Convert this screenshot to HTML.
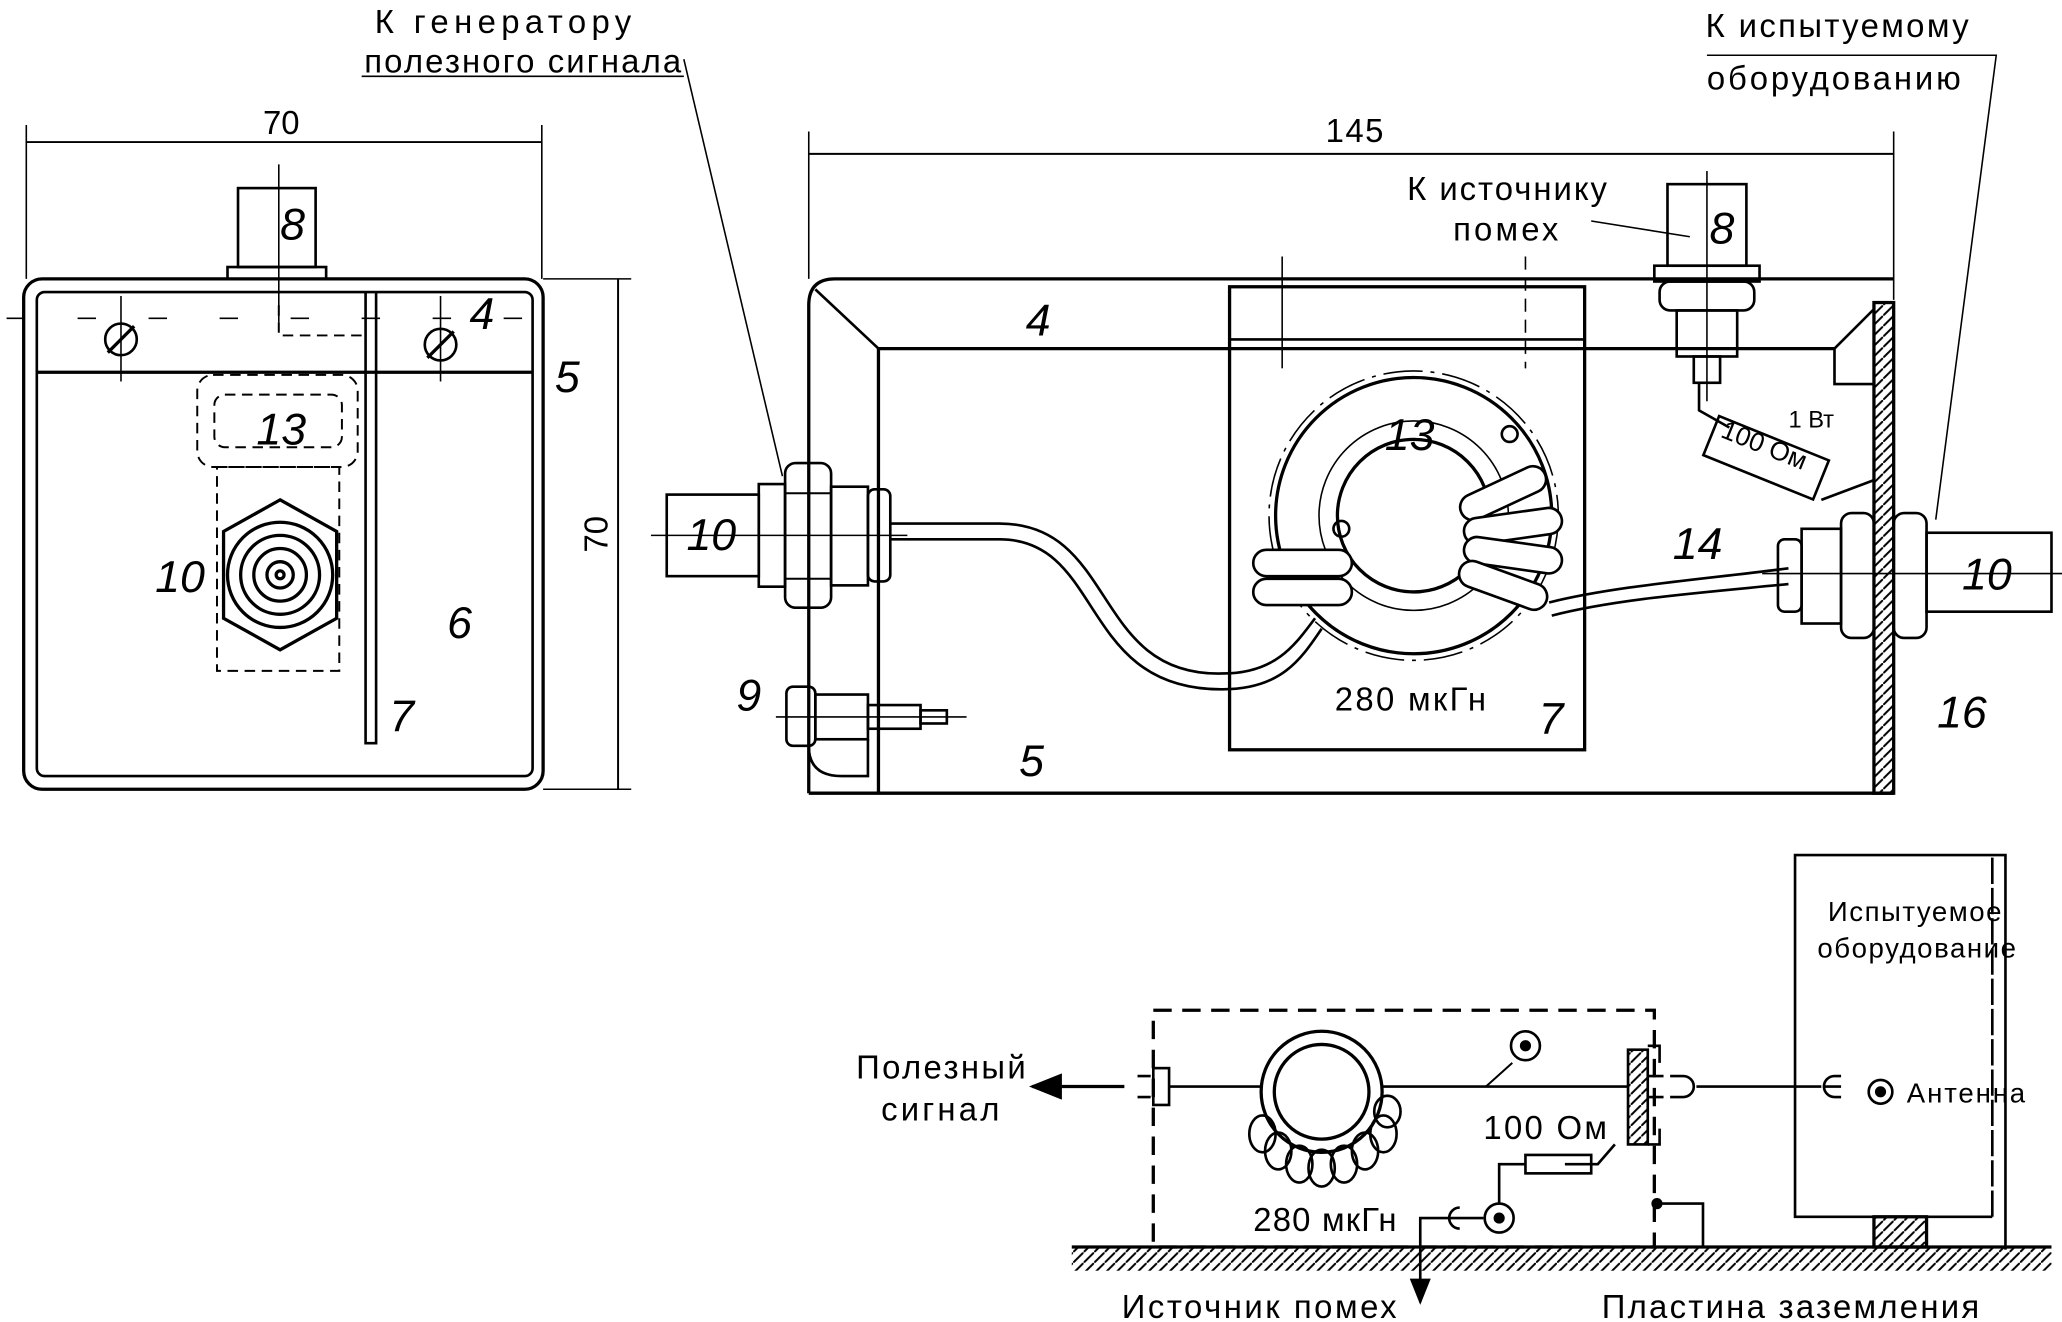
<!DOCTYPE html>
<html><head><meta charset="utf-8"><style>
html,body{margin:0;padding:0;background:#fff}
svg{display:block}
text{font-family:"Liberation Sans",sans-serif;fill:#000}
.i{font-style:italic}
</style></head><body>
<svg width="2062" height="1322" viewBox="0 0 1568 1005" preserveAspectRatio="none" xmlns="http://www.w3.org/2000/svg">
<defs>
<pattern id="h" width="8" height="8" patternUnits="userSpaceOnUse"><path d="M0 8L8 0" stroke="#000" stroke-width="1.5"/></pattern>
<marker id="ar" markerWidth="10" markerHeight="8" refX="9" refY="4" orient="auto"><path d="M0 0L10 4L0 8z"/></marker>
</defs>
<g fill="none" stroke="#000" stroke-width="2.5">
<line x1="20" y1="108" x2="412" y2="108" stroke-width="1.5"/>
<line x1="20" y1="95" x2="20" y2="212" stroke-width="1.2"/>
<line x1="412" y1="95" x2="412" y2="212" stroke-width="1.2"/>
<rect x="18" y="212" width="395" height="388" rx="14"/>
<rect x="28" y="222" width="377" height="368" rx="6" stroke-width="2"/>
<line x1="28" y1="283" x2="405" y2="283"/>
<line x1="413" y1="212" x2="480" y2="212" stroke-width="1.2"/>
<line x1="413" y1="600" x2="480" y2="600" stroke-width="1.2"/>
<line x1="470" y1="212" x2="470" y2="600" stroke-width="1.5"/>
<rect x="181" y="143" width="59" height="60" stroke-width="2"/>
<rect x="173" y="203" width="75" height="9" stroke-width="2"/>
<line x1="212" y1="125" x2="212" y2="245" stroke-width="1.2"/>
<line x1="5" y1="242" x2="428" y2="242" stroke-width="1.2" stroke-dasharray="14 40"/>
<line x1="92" y1="225" x2="92" y2="290" stroke-width="1.2"/>
<line x1="335" y1="225" x2="335" y2="290" stroke-width="1.2"/>
<circle cx="92" cy="258" r="12" stroke-width="2"/><line x1="82" y1="268" x2="102" y2="248"/>
<circle cx="335" cy="262" r="12" stroke-width="2"/><line x1="325" y1="272" x2="345" y2="252"/>
<path d="M212 232 V255 H278" stroke-dasharray="8 5" stroke-width="1.5"/>
<rect x="150" y="285" width="122" height="70" rx="12" stroke-dasharray="8 5" stroke-width="1.5"/>
<rect x="163" y="300" width="97" height="40" rx="8" stroke-dasharray="8 5" stroke-width="1.5"/>
<rect x="165" y="355" width="93" height="155" stroke-dasharray="8 5" stroke-width="1.5"/>
<polygon points="213,380 256,404 256,470 213,494 170,470 170,404"/>
<circle cx="213" cy="437" r="40"/><circle cx="213" cy="437" r="30"/><circle cx="213" cy="437" r="20"/><circle cx="213" cy="437" r="10"/><circle cx="213" cy="437" r="3"/>
<path d="M278 222 V565 H286 V222" stroke-width="2"/>
<line x1="615" y1="117" x2="1440" y2="117" stroke-width="1.5"/>
<line x1="615" y1="100" x2="615" y2="212" stroke-width="1.2"/>
<line x1="1440" y1="100" x2="1440" y2="228" stroke-width="1.2"/>
<path d="M615 603 V232 Q615 212 635 212 H1440"/>
<path d="M615 603 H1440"/>
<path d="M668 603 V265 H1395" />
<line x1="620" y1="220" x2="668" y2="265" stroke-width="2"/>
<line x1="1395" y1="265" x2="1425" y2="235" stroke-width="2"/>
<path d="M1395 265 V292 H1425" stroke-width="2"/>
<rect x="1425" y="230" width="15" height="373" fill="url(#h)"/>
<rect x="935" y="218" width="270" height="352"/>
<line x1="935" y1="258" x2="1205" y2="258" stroke-width="2"/>
<line x1="975" y1="195" x2="975" y2="280" stroke-width="1.2"/>
<line x1="1160" y1="195" x2="1160" y2="280" stroke-width="1.2" stroke-dasharray="10 6"/>
<circle cx="1075" cy="392" r="110" stroke-width="1.2" stroke-dasharray="30 6 3 6"/>
<circle cx="1075" cy="392" r="105"/><circle cx="1075" cy="392" r="58"/>
<circle cx="1075" cy="392" r="72" stroke-width="1.2"/>
<g stroke-width="2" fill="#fff">
<rect x="953" y="418" width="75" height="20" rx="10"/><rect x="953" y="440" width="75" height="20" rx="10"/>
<rect x="1108" y="365" width="70" height="20" rx="10" transform="rotate(-25 1143 375)"/>
<rect x="1113" y="390" width="75" height="20" rx="10" transform="rotate(-8 1150 400)"/>
<rect x="1113" y="412" width="75" height="20" rx="10" transform="rotate(8 1150 422)"/>
<rect x="1108" y="435" width="70" height="20" rx="10" transform="rotate(20 1143 445)"/>
</g>
<circle cx="1020" cy="402" r="6" stroke-width="2"/><circle cx="1148" cy="330" r="6" stroke-width="2"/>
<path d="M677 398 H760 C850 398 830 515 930 512 C970 512 985 490 1000 470" stroke-width="2"/>
<path d="M677 410 H760 C840 410 820 525 930 524 C975 524 990 500 1005 478" stroke-width="2"/>
<path d="M1178 458 C1230 445 1300 440 1360 432" stroke-width="2"/>
<path d="M1180 468 C1230 455 1300 450 1360 444" stroke-width="2"/>
<rect x="507" y="376" width="70" height="62" stroke-width="2"/>
<rect x="577" y="368" width="20" height="78" stroke-width="2"/>
<rect x="597" y="352" width="35" height="110" rx="8" stroke-width="2"/>
<line x1="597" y1="375" x2="632" y2="375" stroke-width="1.5"/><line x1="597" y1="440" x2="632" y2="440" stroke-width="1.5"/>
<rect x="632" y="370" width="28" height="75" stroke-width="2"/>
<rect x="660" y="372" width="17" height="70" rx="5" stroke-width="2"/>
<line x1="495" y1="407" x2="690" y2="407" stroke-width="1.2"/>
<rect x="598" y="522" width="22" height="45" rx="5" stroke-width="2"/>
<rect x="620" y="528" width="40" height="34" stroke-width="2"/>
<rect x="660" y="536" width="40" height="18" stroke-width="2"/>
<rect x="700" y="540" width="20" height="10" stroke-width="2"/>
<line x1="590" y1="545" x2="735" y2="545" stroke-width="1.2"/>
<path d="M615 567 Q615 590 640 590 H660 V562" stroke-width="2"/>
<rect x="1352" y="410" width="18" height="55" rx="5" stroke-width="2"/>
<rect x="1370" y="402" width="30" height="72" stroke-width="2"/>
<rect x="1400" y="390" width="25" height="95" rx="8" stroke-width="2"/>
<rect x="1440" y="390" width="25" height="95" rx="8" stroke-width="2"/>
<rect x="1465" y="405" width="95" height="60" stroke-width="2"/>
<line x1="1340" y1="436" x2="1568" y2="436" stroke-width="1.2"/>
<rect x="1268" y="140" width="60" height="62" stroke-width="2"/>
<rect x="1258" y="202" width="80" height="12" stroke-width="2"/>
<rect x="1262" y="214" width="72" height="22" rx="8" stroke-width="2"/>
<rect x="1275" y="236" width="46" height="35" stroke-width="2"/>
<rect x="1288" y="271" width="20" height="20" stroke-width="2"/>
<line x1="1298" y1="130" x2="1298" y2="305" stroke-width="1.2"/>
<path d="M1292 291 V312 L1315 325" stroke-width="2"/>
<rect x="1298" y="332" width="90" height="32" transform="rotate(22 1343 348)" stroke-width="2"/>
<line x1="1385" y1="380" x2="1425" y2="365" stroke-width="2"/>
<path d="M520 45 L595 362" stroke-width="1.2"/>
<path d="M275 58 H520" stroke-width="1.2"/>
<path d="M1298 42 H1518 L1472 395" stroke-width="1.2"/>
<path d="M1210 168 L1285 180" stroke-width="1.2"/>
<rect x="877" y="768" width="381" height="180" stroke-dasharray="14 8" stroke-width="2.5"/>
<line x1="815" y1="948" x2="1560" y2="948"/>
<rect x="815" y="948" width="745" height="18" fill="url(#h)" stroke="none"/>
<path d="M1525 950 V650 H1365 V925 H1515" stroke-width="2"/>
<path d="M1515 925 V650" stroke-width="2" stroke-dasharray="20 3"/>
<rect x="1425" y="925" width="40" height="23" fill="url(#h)"/>
<line x1="785" y1="826" x2="855" y2="826" marker-end="url(#ar)" transform="rotate(180 820 826)"/>
<path d="M875 818 H865 M875 834 H865" stroke-width="2"/>
<rect x="877" y="812" width="12" height="28" stroke-width="2"/>
<line x1="889" y1="826" x2="960" y2="826" stroke-width="2"/>
<circle cx="1005" cy="830" r="46"/><circle cx="1005" cy="830" r="36"/>
<g stroke-width="2">
<ellipse cx="972" cy="875" rx="10" ry="14"/><ellipse cx="988" cy="885" rx="10" ry="14"/><ellipse cx="1005" cy="888" rx="10" ry="14"/><ellipse cx="1022" cy="885" rx="10" ry="14"/><ellipse cx="1038" cy="875" rx="10" ry="14"/><ellipse cx="1052" cy="862" rx="10" ry="14"/><ellipse cx="960" cy="862" rx="10" ry="14"/><ellipse cx="1055" cy="845" rx="10" ry="12"/>
</g>
<line x1="1050" y1="826" x2="1238" y2="826" stroke-width="2"/>
<circle cx="1160" cy="795" r="11" stroke-width="2"/><circle cx="1160" cy="795" r="3" fill="#000"/>
<line x1="1130" y1="826" x2="1150" y2="808" stroke-width="1.5"/>
<rect x="1238" y="798" width="15" height="72" fill="url(#h)" stroke-width="2"/>
<path d="M1253 795 H1262 V808 M1253 870 H1262 V858" stroke-width="2"/>
<path d="M1253 818 H1265 M1253 834 H1265" stroke-width="2"/>
<path d="M1270 818 H1280 A8 8 0 0 1 1280 834 H1270" stroke-width="2"/>
<line x1="1290" y1="826" x2="1385" y2="826" stroke-width="2"/>
<path d="M1400 818 H1395 A8 8 0 0 0 1395 834 H1400 M1386 826 H1400" stroke-width="2"/>
<circle cx="1430" cy="830" r="9" stroke-width="2"/><circle cx="1430" cy="830" r="3" fill="#000"/>
<path d="M1228 870 L1215 885 H1190" stroke-width="2"/>
<rect x="1160" y="878" width="50" height="14" stroke-width="2"/>
<path d="M1160 885 H1140 V915" stroke-width="2"/>
<circle cx="1140" cy="926" r="11" stroke-width="2"/><circle cx="1140" cy="926" r="3" fill="#000"/>
<path d="M1128 926 H1118 M1110 918 A8 8 0 0 0 1110 934 M1118 926 H1080 V990" stroke-width="2" marker-end="url(#ar)"/>
<path d="M1260 915 H1295 V948" stroke-width="2"/>
<circle cx="1260" cy="915" r="3" fill="#000"/>
</g>
<g font-size="25">
<text x="200" y="102">70</text>
<text x="1008" y="108" textLength="44">145</text>
<text x="462" y="420" transform="rotate(-90 462 420)">70</text>
<text x="285" y="25" textLength="195">К генератору</text>
<text x="277" y="55" textLength="241">полезного сигнала</text>
<text x="1297" y="28" textLength="200">К испытуемому</text>
<text x="1298" y="68" textLength="193">оборудованию</text>
<text x="1070" y="152" textLength="152">К источнику</text>
<text x="1105" y="183" textLength="80">помех</text>
<text x="1015" y="540" textLength="115">280 мкГн</text>
<text x="1360" y="325" font-size="18">1 Вт</text>
<text x="1305" y="345" font-size="20" transform="rotate(22 1340 345)">100 Ом</text>
<text x="651" y="820" textLength="129">Полезный</text>
<text x="670" y="852" textLength="90">сигнал</text>
<text x="1390" y="700" font-size="21" textLength="132">Испытуемое</text>
<text x="1382" y="728" font-size="21" textLength="151">оборудование</text>
<text x="1450" y="838" font-size="21" textLength="90">Антенна</text>
<text x="1128" y="866" textLength="94">100 Ом</text>
<text x="953" y="936" textLength="109">280 мкГн</text>
<text x="853" y="1002" textLength="209">Источник помех</text>
<text x="1218" y="1002" textLength="287">Пластина заземления</text>
</g>
<g font-size="34" class="i">
<text x="213" y="182">8</text><text x="357" y="250">4</text><text x="422" y="298">5</text>
<text x="195" y="338">13</text><text x="118" y="450">10</text><text x="340" y="485">6</text><text x="296" y="556">7</text>
<text x="780" y="255">4</text><text x="1053" y="342">13</text><text x="1300" y="185">8</text>
<text x="522" y="418">10</text><text x="1492" y="448">10</text><text x="1272" y="425">14</text>
<text x="560" y="540">9</text><text x="775" y="590">5</text><text x="1170" y="558">7</text><text x="1473" y="553">16</text>
</g>
</svg>
</body></html>
